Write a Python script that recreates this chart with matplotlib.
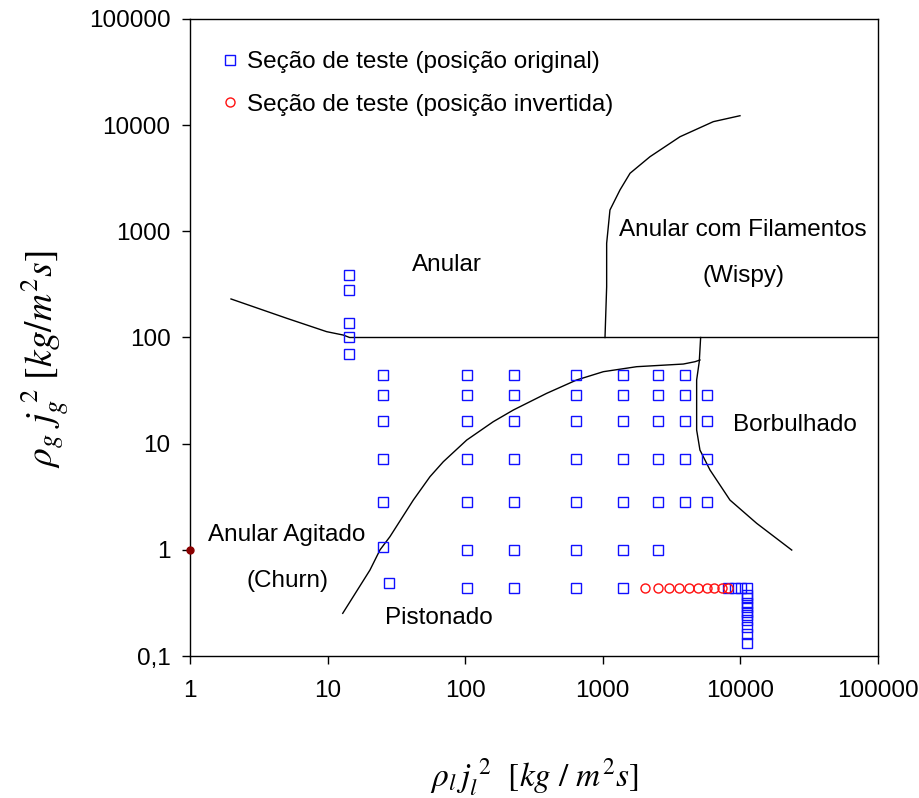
import matplotlib
matplotlib.use("Agg")
import matplotlib.pyplot as plt
import numpy as np

plt.rcParams['font.family'] = ['Liberation Sans', 'DejaVu Sans']
plt.rcParams['mathtext.fontset'] = 'stix'

# Test section, original position (blue squares)
orig_x = [14.3]*5 + [25.4]*6 + [27.9] \
    + [102.5]*7 + [226]*7 + [635]*7 + [1410]*7 \
    + [2505]*6 + [3950]*5 + [5690]*4 \
    + [8170, 9140, 10100, 11110] + [11110]*10
orig_y = [390, 280, 137, 100, 70] + [44.6, 28.7, 16.3, 7.1, 2.8, 1.07] + [0.49] \
    + [44.6, 28.7, 16.3, 7.1, 2.8, 1.0, 0.44]*4 \
    + [44.6, 28.7, 16.3, 7.1, 2.8, 1.0] + [44.6, 28.7, 16.3, 7.1, 2.8] \
    + [28.7, 16.3, 7.1, 2.8] \
    + [0.44, 0.44, 0.44, 0.44] \
    + [0.375, 0.349, 0.314, 0.291, 0.261, 0.243, 0.218, 0.189, 0.161, 0.133]

# Test section, inverted position (red circles)
inv_x = [2037, 2505, 3027, 3594, 4252, 4893, 5690, 6460, 7310, 8170]
inv_y = [0.44]*10

# Transition boundaries (log10 coordinates)
b1_lx = [0.298, 0.703, 0.993, 1.114, 1.16, 5.0]
b1_ly = [2.363, 2.181, 2.055, 2.023, 2.0, 2.0]

b2_lx = [3.016, 3.028, 3.028, 3.052, 3.125, 3.198, 3.343, 3.561, 3.803, 3.997]
b2_ly = [2.0, 2.478, 2.887, 3.201, 3.39, 3.547, 3.703, 3.891, 4.033, 4.089]

b3_lx = [1.11, 1.308, 1.381, 1.453, 1.623, 1.744, 1.841, 2.011, 2.204, 2.35,
         2.592, 2.81, 3.004, 3.246, 3.585, 3.67, 3.706]
b3_ly = [-0.598, -0.19, 0.0, 0.124, 0.469, 0.689, 0.83, 1.034, 1.207, 1.317,
         1.474, 1.6, 1.678, 1.725, 1.75, 1.772, 1.788]

b4_lx = [3.711, 3.701, 3.682, 3.682, 3.706, 3.779, 3.924, 4.118, 4.373]
b4_ly = [2.0, 1.772, 1.6, 1.129, 0.94, 0.752, 0.469, 0.25, -0.002]

xticks = [1, 10, 100, 1000, 10000, 100000]
xticklabels = ['1', '10', '100', '1000', '10000', '100000']
yticks = [0.1, 1, 10, 100, 1000, 10000, 100000]
yticklabels = ['0,1', '1', '10', '100', '1000', '10000', '100000']

fig = plt.figure(figsize=(9.2, 7.98), dpi=100)
ax = fig.add_axes([190/920, 1-656/798, 688/920, 637/798])
ax.set_xscale('log')
ax.set_yscale('log')
ax.set_xlim(1, 100000)
ax.set_ylim(0.1, 100000)

for lx, ly in [(b1_lx, b1_ly), (b2_lx, b2_ly), (b3_lx, b3_ly), (b4_lx, b4_ly)]:
    ax.plot(10**np.array(lx), 10**np.array(ly), color='black', lw=1.0)

ax.plot(orig_x, orig_y, ls='none', marker='s', ms=6.5, mfc='none', mec='#1010ff',
        mew=1.0, label='Seção de teste (posição original)')
ax.plot(inv_x, inv_y, ls='none', marker='o', ms=6.5, mfc='none', mec='#ff1010',
        mew=1.0, label='Seção de teste (posição invertida)')
ax.plot([1], [1], ls='none', marker='o', ms=5, color='#8b0000', clip_on=False, zorder=5)

fs = 17.5
ax.text(73.8, 482, 'Anular', fontsize=fs, ha='center', va='center')
ax.text(10450, 1028, 'Anular com Filamentos', fontsize=fs, ha='center', va='center')
ax.text(10450, 379, '(Wispy)', fontsize=fs, ha='center', va='center')
ax.text(24900, 15.0, 'Borbulhado', fontsize=fs, ha='center', va='center')
ax.text(5.07, 1.38, 'Anular Agitado', fontsize=fs, ha='center', va='center')
ax.text(5.07, 0.508, '(Churn)', fontsize=fs, ha='center', va='center')
ax.text(64.5, 0.228, 'Pistonado', fontsize=fs, ha='center', va='center')

ax.set_xticks(xticks)
ax.set_xticklabels(xticklabels, fontsize=fs)
ax.set_yticks(yticks)
ax.set_yticklabels(yticklabels, fontsize=fs)
ax.minorticks_off()
ax.tick_params(direction='out', length=6, width=1, pad=8)
ax.tick_params(axis='x', pad=11)
for s in ax.spines.values():
    s.set_linewidth(1.0)

ax.set_xlabel(r'$\rho_l\, j_l^{\ 2}\ \ [kg\ /\ m^2 s]$', fontsize=24)
ax.xaxis.set_label_coords(0.5, -0.157)
ax.set_ylabel(r'$\rho_g\ j_g^{\ 2}\ [kg/m^2 s]$', fontsize=27)
ax.yaxis.set_label_coords(-0.172, 0.465)

leg = ax.legend(loc='upper left', bbox_to_anchor=(0.03, 0.965), frameon=False,
                fontsize=fs, handlelength=0.8, handletextpad=0.3, labelspacing=0.85,
                borderaxespad=0)

fig.savefig('out.png', dpi=100)
